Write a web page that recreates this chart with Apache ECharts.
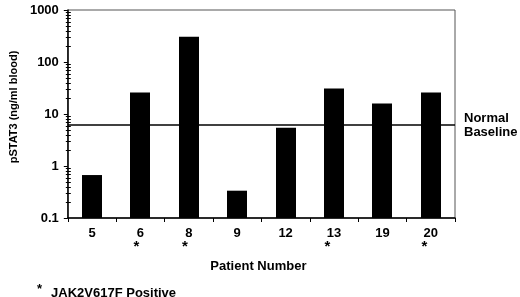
<!DOCTYPE html>
<html>
<head>
<meta charset="utf-8">
<script src="https://cdn.jsdelivr.net/npm/echarts@6/dist/echarts.min.js"></script>
<style>
  html, body { margin: 0; padding: 0; background: #fff; }
  #chart { width: 520px; height: 297px; }
</style>
</head>
<body>
<div id="chart"></div>
<script>
const patients = ['5', '6', '8', '9', '12', '13', '19', '20'];
const pstat3 = [0.67, 25.8, 307, 0.335, 5.45, 31, 16, 25.8];
const jak2Positive = ['6', '8', '13', '20'];
const normalBaseline = 6.1;
const yMin = 0.1;
const yMax = 1000;
const decades = [0.1, 1, 10, 100];
const minorSteps = [2, 3, 4, 5, 6, 7, 8, 9];

const FONT = '"Liberation Sans", Arial, sans-serif';

// log-spaced minor ticks between the decades
const minorTicks = [];
decades.forEach((d) => minorSteps.forEach((m) => minorTicks.push([0, +(d * m).toPrecision(3)])));

const chart = echarts.init(document.getElementById('chart'), undefined, { renderer: 'canvas' });

chart.setOption({
  backgroundColor: '#fff',
  animation: false,
  textStyle: { fontFamily: FONT, color: '#000' },
  title: {
    left: 32,
    top: 278,
    text: '{s|*}{t|JAK2V617F Positive}',
    textStyle: {
      rich: {
        s: { fontFamily: FONT, fontSize: 13, color: '#000', padding: [0, 9, 7, 0] },
        t: { fontFamily: FONT, fontSize: 13, fontWeight: 'bold', color: '#000' }
      }
    }
  },
  grid: {
    left: 64,
    right: 65,
    top: 10,
    bottom: 79,
    show: true,
    borderColor: '#555',
    borderWidth: 1
  },
  xAxis: {
    type: 'category',
    data: patients,
    name: 'Patient Number',
    nameLocation: 'middle',
    nameGap: 42,
    nameTextStyle: { fontFamily: FONT, fontSize: 13, fontWeight: 'bold', color: '#000', padding: [0, 6, 0, 0] },
    axisLine: { lineStyle: { color: '#000', width: 1.5 } },
    axisTick: { show: true, length: 4, lineStyle: { color: '#000' } },
    axisLabel: {
      margin: 9,
      interval: 0,
      formatter: (v) => {
        if (!jak2Positive.includes(v)) return `{v|${v}}`;
        return v.length > 1 ? `{v|${v}}\n{s2|*}` : `{v|${v}}\n{s1|*}`;
      },
      rich: {
        v: { fontFamily: FONT, fontSize: 13, fontWeight: 'bold', color: '#000', lineHeight: 12 },
        s1: { fontFamily: FONT, fontSize: 15, fontWeight: 'bold', color: '#000', lineHeight: 15, padding: [0, 8, 0, 0] },
        s2: { fontFamily: FONT, fontSize: 15, fontWeight: 'bold', color: '#000', lineHeight: 15, padding: [0, 13, 0, 0] }
      }
    },
    splitLine: { show: false }
  },
  yAxis: {
    type: 'log',
    logBase: 10,
    min: yMin,
    max: yMax,
    name: 'pSTAT3 (ng/ml blood)',
    nameLocation: 'middle',
    nameGap: 46,
    nameTextStyle: { fontFamily: FONT, fontSize: 11, fontWeight: 'bold', color: '#000', padding: [0, 0, 0, 14] },
    axisLine: { show: true, lineStyle: { color: '#000', width: 1.5 } },
    axisTick: { show: true, length: 4, lineStyle: { color: '#000' } },
    axisLabel: {
      margin: 9,
      fontFamily: FONT,
      fontSize: 13,
      fontWeight: 'bold',
      color: '#000',
      formatter: (v) => String(+v.toPrecision(3))
    },
    splitLine: { show: false }
  },
  series: [
    {
      // bars drawn from the axis floor (0.1) rather than from 1
      type: 'custom',
      data: pstat3.map((v, i) => [i, v]),
      renderItem: (params, api) => {
        const top = api.coord([api.value(0), api.value(1)]);
        const bottom = api.coord([api.value(0), yMin]);
        return {
          type: 'rect',
          shape: { x: Math.round(top[0]) - 10, y: top[1], width: 20, height: bottom[1] - top[1] },
          style: { fill: '#000' }
        };
      }
    },
    {
      type: 'line',
      data: [],
      markLine: {
        silent: true,
        symbol: 'none',
        data: [{ yAxis: normalBaseline }],
        lineStyle: { color: '#000', width: 1.5, type: 'solid' },
        label: {
          show: true,
          position: 'end',
          distance: 9,
          formatter: 'Normal\nBaseline',
          fontFamily: FONT,
          fontSize: 13,
          fontWeight: 'bold',
          color: '#000',
          lineHeight: 14,
          align: 'left'
        }
      }
    },
    {
      type: 'custom',
      silent: true,
      clip: false,
      data: minorTicks,
      renderItem: (params, api) => {
        const y = Math.round(api.coord([0, api.value(1)])[1]) + 0.5;
        const x = params.coordSys.x;
        return {
          type: 'line',
          shape: { x1: x - 2, y1: y, x2: x + 3, y2: y },
          style: { stroke: '#000', lineWidth: 1 }
        };
      }
    }
  ]
});
</script>
</body>
</html>
